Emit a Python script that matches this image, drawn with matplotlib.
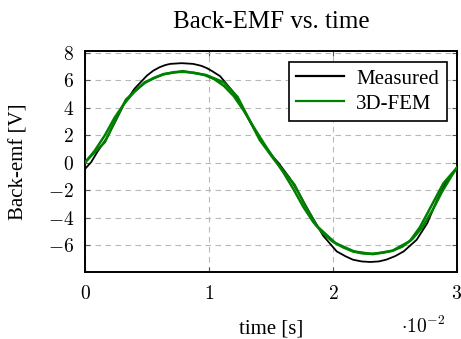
import numpy as np
import matplotlib
matplotlib.use("Agg")
import matplotlib.pyplot as plt
from matplotlib.ticker import FixedLocator, FixedFormatter

plt.rcParams['font.family'] = ['Liberation Serif', 'DejaVu Serif']
plt.rcParams['mathtext.fontset'] = 'cm'

# Measured back-emf (time in ms, volts)
t_meas = [0.0, 0.5, 1.0, 1.75, 2.5, 3.1, 4.0, 5.0, 5.5, 6.0, 6.5, 6.9, 7.8, 8.7, 9.1, 9.4,
          9.8, 10.2, 10.9, 12.0, 13.0, 14.1, 15.2, 15.6, 16.5, 17.3, 18.1, 19.2,
          20.3, 21.0, 21.6, 22.3, 23.0, 23.7, 24.3, 25.0, 25.7, 26.75, 27.6, 28.4, 29.2, 30.0]
v_meas = [-0.45, 0.05, 0.8, 1.8, 3.1, 4.2, 5.4, 6.35, 6.7, 6.95, 7.12, 7.2, 7.25, 7.2, 7.12, 7.05,
          6.9, 6.7, 6.3, 5.1, 3.5, 1.7, 0.4, 0.0, -1.1, -2.3, -3.6, -5.3,
          -6.45, -6.8, -7.05, -7.18, -7.22, -7.18, -7.05, -6.8, -6.45, -5.6, -4.4, -2.7, -1.25, -0.4]

# 3D-FEM, coarse run
t_fem_a = [0.0, 1.6, 2.4, 3.3, 4.8, 6.3, 7.9, 9.8, 11.2, 12.3, 13.1, 14.1, 15.2,
           16.9, 17.8, 18.7, 20.2, 21.7, 23.2, 24.8, 26.2, 27.0, 27.6, 28.9, 30.0]
v_fem_a = [0.05, 1.5, 3.0, 4.6, 5.85, 6.45, 6.67, 6.38, 5.85, 4.8, 3.4, 1.65, 0.3,
           -1.6, -3.2, -4.6, -5.85, -6.45, -6.65, -6.4, -5.7, -4.7, -3.7, -1.5, -0.35]

# 3D-FEM, fine run
t_fem_b = [0.0, 0.8, 1.6, 2.4, 3.2, 4.0, 4.8, 5.6, 6.4, 7.2, 8.0, 8.8, 9.6, 10.4,
           11.2, 12.0, 12.8, 13.6, 14.4, 15.2, 16.0, 16.8, 17.6, 18.4, 19.2, 20.0,
           20.8, 21.6, 22.4, 23.2, 24.0, 24.8, 25.6, 26.4, 27.2, 28.0, 28.8, 29.6, 30.0]
v_fem_b = [0.0, 0.9, 2.0, 3.3, 4.35, 5.2, 5.8, 6.2, 6.45, 6.6, 6.62, 6.55, 6.4, 6.1,
           5.6, 4.85, 3.8, 2.6, 1.45, 0.35, -0.7, -1.9, -3.2, -4.3, -5.15, -5.75,
           -6.15, -6.45, -6.6, -6.62, -6.55, -6.4, -6.1, -5.55, -4.7, -3.5, -2.1, -0.9, -0.35]

x_ticks = [0, 1, 2, 3]
y_ticks = [-6, -4, -2, 0, 2, 4, 6, 8]

GREEN = '#008000'

fig = plt.figure(figsize=(4.61, 3.39), dpi=100)
ax = fig.add_axes([0.1844, 0.1976, 0.8069, 0.6505])

# time axis is shown in units of 1e-2 s
scale = 10.0  # ms -> 1e-2 s
ax.plot(np.array(t_meas) / scale, v_meas, color='black', lw=1.3, label='Measured', zorder=3)
ax.plot(np.array(t_fem_a) / scale, v_fem_a, color=GREEN, lw=1.8, label='3D-FEM', zorder=4)
ax.plot(np.array(t_fem_b) / scale, v_fem_b, color=GREEN, lw=1.8, zorder=4)

ax.set_xlim(0, 3)
ax.set_ylim(-7.95, 8.1)

ax.xaxis.set_major_locator(FixedLocator(x_ticks))
ax.xaxis.set_major_formatter(FixedFormatter([f'${v}$' for v in x_ticks]))
ax.yaxis.set_major_locator(FixedLocator(y_ticks))
ax.yaxis.set_major_formatter(FixedFormatter([f'${v}$' for v in y_ticks]))

ax.tick_params(direction='in', length=3.5, width=0.8, top=True, right=True,
               labelsize=14, color='#555555')
ax.tick_params(axis='x', pad=9)
ax.tick_params(axis='y', pad=8)
ax.grid(True, color='#b8b8b8', linestyle=(0, (5, 4)), linewidth=0.8)
for s in ax.spines.values():
    s.set_linewidth(1.4)

ax.set_title('Back-EMF vs. time', fontsize=18, pad=17)
ax.set_xlabel('time [s]', fontsize=15, labelpad=12)
ax.set_ylabel('Back-emf [V]', fontsize=15, labelpad=14)
ax.text(0.968, -0.245, r'$\cdot 10^{-2}$', transform=ax.transAxes, ha='right', va='center', fontsize=14)

leg = ax.legend(loc='upper right', fontsize=15, frameon=True, fancybox=False,
                edgecolor='black', framealpha=1, handlelength=2.3, borderpad=0.35,
                labelspacing=0.25, handletextpad=0.6, borderaxespad=0.5)
leg.get_frame().set_linewidth(1.2)
for line in leg.get_lines():
    line.set_linewidth(1.6)

fig.savefig('out.png', dpi=100)
